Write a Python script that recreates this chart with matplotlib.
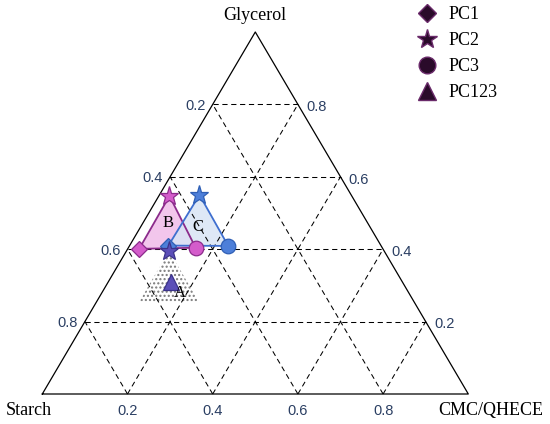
import numpy as np
import matplotlib.pyplot as plt
from matplotlib.lines import Line2D

# corner names and grid ticks
corner_names = ["Starch", "CMC/QHECE", "Glycerol"]
ticks = [0.2, 0.4, 0.6, 0.8]

# fractions (CMC, Glycerol); starch = 1 - CMC - Glycerol
# order of points: PC1, PC2, PC3
cmc_a = [0.10, 0.10, 0.24]
gly_a = [0.255, 0.395, 0.255]
cmc_b = [0.027, 0.025, 0.158]
gly_b = [0.401, 0.547, 0.404]
cmc_c = [0.091, 0.094, 0.232]
gly_c = [0.410, 0.550, 0.409]
# PC123 of region A
cmc_a123 = [0.146]
gly_a123 = [0.310]

# region labels
region_names = ["A", "B", "C"]
region_cmc = [0.184, 0.060, 0.135]
region_gly = [0.278, 0.471, 0.462]

legend_labels = ["PC1", "PC2", "PC3", "PC123"]


def tern(c, g):
    c = np.asarray(c, float)
    g = np.asarray(g, float)
    return c + g / 2, g


fig = plt.figure(figsize=(5.5, 4.24), dpi=100)
ax = fig.add_axes([0, 0, 1, 1])
ax.set_xlim(-42.3 / 426, (550 - 42.3) / 426)
ax.set_ylim(-30 / 362, 394 / 362)
ax.axis("off")

# outer triangle
ox, oy = tern([0, 1, 0, 0], [0, 0, 1, 0])
ax.plot(ox, oy, color="black", lw=0.9, zorder=2)

# dashed grid
gkw = dict(color="black", lw=0.75, ls=(0, (5, 3.5)), zorder=3)
for v in ticks:
    x, y = tern([0, 1 - v], [v, v])
    ax.plot(x, y, **gkw)
    x, y = tern([v, v], [0, 1 - v])
    ax.plot(x, y, **gkw)
    x, y = tern([1 - v, 0], [0, 1 - v])
    ax.plot(x, y, **gkw)

# tick labels
tick_color = "#2b3f63"
tfont = dict(family="Liberation Sans", size=10.5, color=tick_color)
for v in ticks:
    x, y = tern(v, 0)
    ax.annotate(f"{v:.1f}", (x, y), xytext=(0, -12), textcoords="offset points",
                ha="center", va="center", **tfont)
    x, y = tern(0, v)
    ax.annotate(f"{1 - v:.1f}", (x, y), xytext=(-5, -1), textcoords="offset points",
                ha="right", va="center", **tfont)
    x, y = tern(1 - v, v)
    ax.annotate(f"{v:.1f}", (x, y), xytext=(6, -2), textcoords="offset points",
                ha="left", va="center", **tfont)

# corner labels
sfont = dict(family="Liberation Serif", size=13, color="black")
x, y = tern(0, 0)
ax.annotate(corner_names[0], (x, y), xytext=(7, -12), textcoords="offset points",
            ha="right", va="center", **sfont)
x, y = tern(1, 0)
ax.annotate(corner_names[1], (x, y), xytext=(54, -12), textcoords="offset points",
            ha="right", va="center", **sfont)
x, y = tern(0, 1)
ax.annotate(corner_names[2], (x, y), xytext=(0, 12), textcoords="offset points",
            ha="center", va="center", **sfont)

# region A: dotted area
ax_, ay_ = tern(cmc_a, gly_a)
ax.fill(ax_, ay_, facecolor="none", edgecolor="#7a7a7a", lw=0, hatch="....", zorder=1)

# region B
bx, by = tern(cmc_b, gly_b)
ax.fill(bx, by, facecolor="#f2c6ec", edgecolor="none", zorder=1.5)
ax.fill(bx, by, facecolor="none", edgecolor="#8b2b8b", lw=1.3, zorder=4)

# region C
cx, cy = tern(cmc_c, gly_c)
ax.fill(cx, cy, facecolor="#d9e4f5", edgecolor="none", alpha=0.85, zorder=1.6)
ax.fill(cx, cy, facecolor="none", edgecolor="#3f6fcf", lw=1.3, zorder=4)

markers = ["D", "*", "o"]
sizes = [8, 14, 10.5]

# markers B
for i in range(3):
    ax.plot(bx[i], by[i], marker=markers[i], ms=sizes[i], mfc="#d45ccb",
            mec="#8b2b8b", mew=0.9, ls="none", zorder=5)
# markers C
for i in range(3):
    ax.plot(cx[i], cy[i], marker=markers[i], ms=sizes[i], mfc="#4d7fd9",
            mec="#2f5fb5", mew=0.9, ls="none", zorder=5)
# markers A (only PC2 visible) and PC123
ax.plot(ax_[1], ay_[1], marker="*", ms=14, mfc="#5b4fb8", mec="#3b338a",
        mew=0.9, ls="none", zorder=6)
px, py = tern(cmc_a123, gly_a123)
ax.plot(px, py, marker="^", ms=11, mfc="#5b4fb8", mec="#3b338a",
        mew=0.9, ls="none", zorder=6)

# region labels
rx, ry = tern(region_cmc, region_gly)
for name, x, y in zip(region_names, rx, ry):
    ax.text(x, y, name, ha="center", va="center", zorder=7,
            family="Liberation Serif", size=12)

# legend
handles = [Line2D([], [], marker=m, ls="none", ms=s, mfc="#2a0b2a",
                  mec="#6a2a6a", mew=1)
           for m, s in zip(["D", "*", "o", "^"], [9, 15, 12, 13])]
fig.legend(handles, legend_labels, loc="upper left",
           bbox_to_anchor=(418 / 550, 1 - 6 / 424), frameon=False,
           prop=dict(family="Liberation Serif", size=13),
           handlelength=1.0, handletextpad=0.7, labelspacing=0.5,
           borderpad=0, borderaxespad=0)

fig.savefig("out.png", dpi=100)
